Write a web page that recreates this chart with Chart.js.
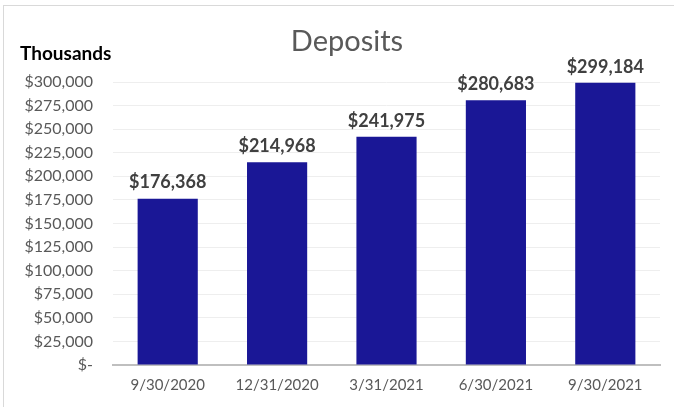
<!DOCTYPE html>
<html><head><meta charset="utf-8">
<script src="https://cdn.jsdelivr.net/npm/chart.js@4/dist/chart.umd.min.js"></script>
<style>
html,body{margin:0;padding:0;background:#fff;}
#wrap{position:absolute;left:0;top:0;width:674px;height:407px;}
#frame{position:absolute;left:3px;top:5px;width:672px;height:410px;border:1px solid #d9d9d9;box-sizing:border-box;}
</style></head>
<body>
<div id="wrap"><div id="frame"></div><canvas id="c" width="674" height="407"></canvas></div>
<script>
const categories = ["9/30/2020","12/31/2020","3/31/2021","6/30/2021","9/30/2021"];
const deposits = [176368, 214968, 241975, 280683, 299184];
const yTicks = [0,25000,50000,75000,100000,125000,150000,175000,200000,225000,250000,275000,300000];
const chartTitle = "Deposits";
const unitLabel = "Thousands";

const FONT = "Lato, 'Open Sans', sans-serif";
const fmt = v => v === 0 ? "$-" : "$" + v.toLocaleString("en-US");

const overlay = {
  id: "overlay",
  afterDatasetsDraw(chart) {
    const ctx = chart.ctx;
    ctx.save();
    ctx.fillStyle = "#595959";
    ctx.font = "29px " + FONT;
    ctx.textAlign = "center"; ctx.textBaseline = "middle";
    ctx.fillText(chartTitle, 347, 42);
    ctx.fillStyle = "#000";
    ctx.font = "bold 19px " + FONT;
    ctx.textAlign = "left";
    ctx.fillText(unitLabel, 20, 54);
    const meta = chart.getDatasetMeta(0);
    ctx.fillStyle = "#404040";
    ctx.font = "bold 18px " + FONT;
    ctx.textAlign = "center"; ctx.textBaseline = "bottom";
    meta.data.forEach((bar, i) => {
      ctx.fillText(fmt(deposits[i]), bar.x, bar.y - 7);
    });
    ctx.restore();
  }
};

new Chart(document.getElementById("c"), {
  type: "bar",
  data: { labels: categories, datasets: [{ data: deposits, backgroundColor: "#1a1796", borderWidth: 0, barPercentage: 0.55, categoryPercentage: 1 }] },
  options: {
    responsive: false, animation: false,
    layout: { padding: { top: 82, right: 14, bottom: 0, left: 0 } },
    plugins: { legend: { display: false }, title: { display: false }, tooltip: { enabled: false } },
    scales: {
      x: {
        grid: { display: false, drawTicks: false },
        border: { color: "#bfbfbf", width: 2 },
        ticks: { color: "#595959", font: { family: FONT, size: 15 }, padding: 11, maxRotation: 0 },
        afterFit: s => { s.height = 42; }
      },
      y: {
        min: 0, max: 300000,
        afterBuildTicks: s => { s.ticks = yTicks.map(v => ({ value: v })); },
        grid: { color: "#eeeeee", drawTicks: false },
        border: { display: false },
        ticks: { color: "#595959", font: { family: FONT, size: 16 }, padding: 20, callback: v => fmt(v) },
        afterFit: s => { s.width = 113; }
      }
    }
  },
  plugins: [overlay]
});
</script>
</body></html>
